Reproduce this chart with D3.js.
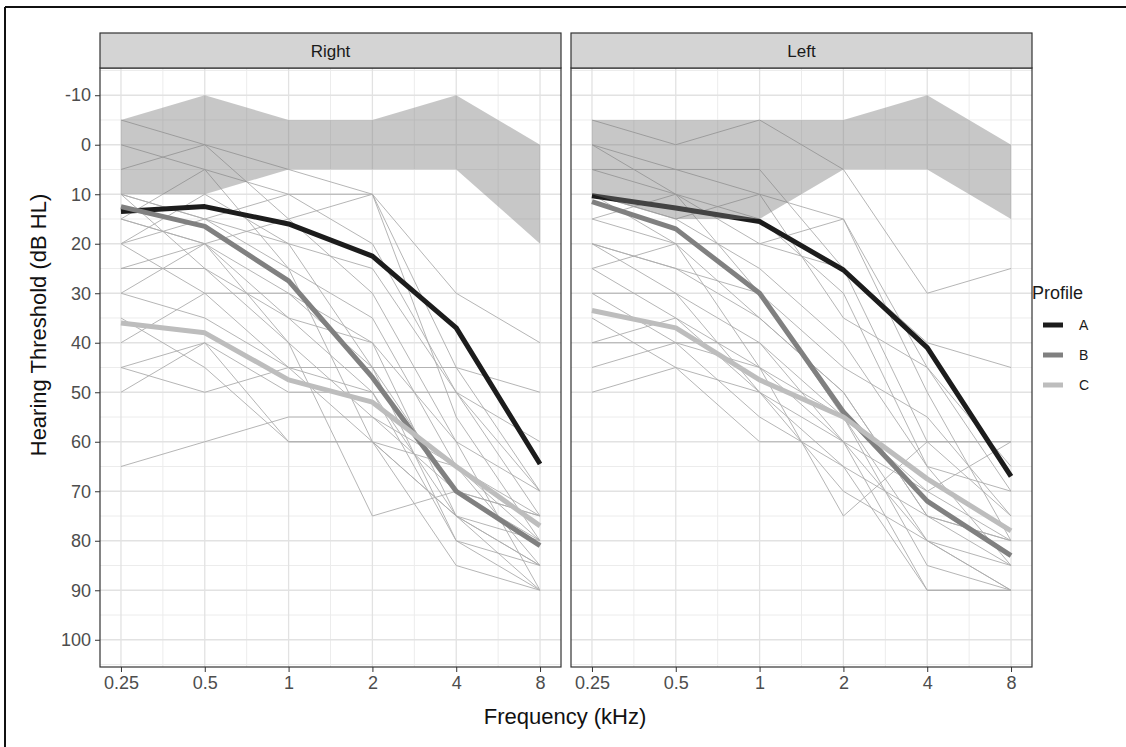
<!DOCTYPE html>
<html>
<head>
<meta charset="utf-8">
<script src="https://cdn.jsdelivr.net/npm/d3@7"></script>
<style>
  body { margin: 0; background: #fff; }
  svg { display: block; font-family: "Liberation Sans", Arial, sans-serif; }
</style>
</head>
<body>
<svg id="chart"></svg>
<script>

// frequencies (kHz) and tick labels
var freqs = [0.25, 0.5, 1, 2, 4, 8];
var freqLabels = ["0.25", "0.5", "1", "2", "4", "8"];
var yTicks = [-10, 0, 10, 20, 30, 40, 50, 60, 70, 80, 90, 100];
var ears = ["Right", "Left"];
var profiles = ["A", "B", "C"];

// normal range band (upper / lower threshold per frequency)
var bandTopRight = [-5, -10, -5, -5, -10, 0];
var bandBottomRight = [10, 10, 5, 5, 5, 20];
var bandTopLeft = [-5, -5, -5, -5, -10, 0];
var bandBottomLeft = [10, 15, 15, 5, 5, 15];

// profile means
var meanRight = {
    A: [13.5, 12.5, 16, 22.5, 37, 64.5],
    B: [12.5, 16.5, 27.5, 47, 70, 81],
    C: [36, 38, 47.5, 52, 65, 77]
};
var meanLeft = {
    A: [10.3, 12.8, 15.5, 25.3, 41, 67],
    B: [11.5, 17, 30, 54, 72, 83],
    C: [33.5, 37, 47.5, 55, 67.5, 78]
};

// individual audiograms
var indivRight = [
    [-5, 0, 5, 10, 30, 40],
    [0, 5, 10, 10, 45, 70],
    [5, 0, 15, 10, 55, 80],
    [10, 15, 10, 20, 50, 75],
    [15, 5, 25, 35, 65, 85],
    [15, 20, 15, 30, 60, 90],
    [20, 10, 20, 45, 70, 80],
    [20, 30, 30, 40, 75, 85],
    [25, 25, 35, 50, 80, 90],
    [30, 20, 40, 55, 70, 75],
    [30, 35, 45, 60, 75, 90],
    [40, 30, 45, 45, 45, 50],
    [45, 40, 50, 50, 50, 70],
    [50, 40, 60, 60, 85, 90],
    [65, 60, 55, 55, 65, 75],
    [20, 15, 25, 60, 65, 80],
    [10, 25, 40, 75, 70, 75],
    [35, 45, 60, 60, 75, 80],
    [15, 20, 30, 45, 80, 85],
    [25, 20, 35, 40, 60, 70],
    [10, 15, 20, 25, 50, 60],
    [45, 50, 45, 50, 75, 85]
];
var indivLeft = [
    [-5, 0, -5, 5, 30, 25],
    [0, 5, 10, 15, 45, 65],
    [5, 5, 5, 25, 60, 75],
    [5, 10, 15, 30, 65, 85],
    [10, 15, 25, 40, 65, 70],
    [15, 20, 20, 15, 50, 80],
    [15, 10, 30, 55, 80, 90],
    [20, 25, 35, 50, 75, 85],
    [20, 30, 40, 60, 90, 90],
    [25, 20, 45, 60, 70, 80],
    [25, 35, 45, 55, 85, 90],
    [30, 30, 50, 65, 90, 90],
    [30, 40, 45, 75, 60, 60],
    [40, 40, 40, 55, 70, 60],
    [40, 35, 50, 60, 80, 85],
    [45, 40, 55, 65, 75, 80],
    [50, 45, 60, 60, 60, 60],
    [10, 15, 10, 35, 45, 70],
    [35, 45, 50, 70, 80, 90],
    [20, 25, 30, 45, 55, 75],
    [10, 20, 35, 50, 75, 80],
    [0, 10, 20, 25, 40, 45]
];

var panelData = {
    Right: { indiv: indivRight, mean: meanRight, top: bandTopRight, bottom: bandBottomRight },
    Left: { indiv: indivLeft, mean: meanLeft, top: bandTopLeft, bottom: bandBottomLeft }
};

var profileColour = { A: "#1c1c1c", B: "#808080", C: "#bdbdbd" };

var W = 1126, H = 747;
var panelX = { Right: 100, Left: 571 };
var panelW = 461;
var plotTop = 68, plotBottom = 667;
var stripTop = 33;

var svg = d3.select("#chart").attr("width", W).attr("height", H);

// outer frame (top and left edges visible)
svg.append("line").attr("x1", 5).attr("y1", 7).attr("x2", W).attr("y2", 7)
    .attr("stroke", "#111").attr("stroke-width", 2);
svg.append("line").attr("x1", 5).attr("y1", 7).attr("x2", 5).attr("y2", H)
    .attr("stroke", "#111").attr("stroke-width", 2);

var y = d3.scaleLinear().domain([-15.5, 105.5]).range([plotTop, plotBottom]);

ears.forEach(function (ear) {
    var d = panelData[ear];
    var x0 = panelX[ear];
    var x = d3.scaleLog().base(2)
        .domain([0.25 * Math.pow(2, -0.25), 8 * Math.pow(2, 0.25)])
        .range([x0, x0 + panelW]);

    var g = svg.append("g");
    var clipId = "clip-" + ear;
    g.append("clipPath").attr("id", clipId).append("rect")
        .attr("x", x0).attr("y", plotTop).attr("width", panelW).attr("height", plotBottom - plotTop);

    // grid, minor first
    var minorX = d3.range(freqs.length - 1).map(function (i) { return Math.sqrt(freqs[i] * freqs[i + 1]); });
    var minorY = d3.range(-15, 106, 10);
    g.selectAll(".mx").data(minorX).enter().append("line")
        .attr("x1", function (v) { return x(v); }).attr("x2", function (v) { return x(v); })
        .attr("y1", plotTop).attr("y2", plotBottom).attr("stroke", "#ececec").attr("stroke-width", 1);
    g.selectAll(".my").data(minorY).enter().append("line")
        .attr("y1", function (v) { return y(v); }).attr("y2", function (v) { return y(v); })
        .attr("x1", x0).attr("x2", x0 + panelW).attr("stroke", "#ececec").attr("stroke-width", 1);
    g.selectAll(".gx").data(freqs).enter().append("line")
        .attr("x1", function (v) { return x(v); }).attr("x2", function (v) { return x(v); })
        .attr("y1", plotTop).attr("y2", plotBottom).attr("stroke", "#e2e2e2").attr("stroke-width", 1.3);
    g.selectAll(".gy").data(yTicks).enter().append("line")
        .attr("y1", function (v) { return y(v); }).attr("y2", function (v) { return y(v); })
        .attr("x1", x0).attr("x2", x0 + panelW).attr("stroke", "#e2e2e2").attr("stroke-width", 1.3);

    var plot = g.append("g").attr("clip-path", "url(#" + clipId + ")");

    var line = d3.line()
        .x(function (v, i) { return x(freqs[i]); })
        .y(function (v) { return y(v); });

    // individual thin lines
    plot.selectAll(".indiv").data(d.indiv).enter().append("path")
        .attr("d", line)
        .attr("fill", "none").attr("stroke", "#adadad").attr("stroke-width", 0.9);

    // profile means
    profiles.forEach(function (p) {
        plot.append("path").attr("d", line(d.mean[p]))
            .attr("fill", "none").attr("stroke", profileColour[p])
            .attr("stroke-width", 5).attr("stroke-linejoin", "round");
    });

    // normal-hearing band, semi transparent on top
    var area = d3.area()
        .x(function (v, i) { return x(freqs[i]); })
        .y0(function (v, i) { return y(d.bottom[i]); })
        .y1(function (v) { return y(v); });
    plot.append("path").attr("d", area(d.top))
        .attr("fill", "#7a7a7a").attr("fill-opacity", 0.42);

    // panel border
    g.append("rect").attr("x", x0).attr("y", plotTop).attr("width", panelW).attr("height", plotBottom - plotTop)
        .attr("fill", "none").attr("stroke", "#333").attr("stroke-width", 1.2);

    // strip
    g.append("rect").attr("x", x0).attr("y", stripTop).attr("width", panelW).attr("height", plotTop - stripTop)
        .attr("fill", "#d4d4d4").attr("stroke", "#333").attr("stroke-width", 1.2);
    g.append("text").attr("x", x0 + panelW / 2).attr("y", (stripTop + plotTop) / 2 + 6)
        .attr("text-anchor", "middle").attr("font-size", 17).attr("fill", "#1a1a1a").text(ear);

    // x axis
    var xAxis = d3.axisBottom(x).tickValues(freqs)
        .tickFormat(function (v, i) { return freqLabels[i]; })
        .tickSize(5).tickPadding(4);
    var xa = g.append("g").attr("transform", "translate(0," + plotBottom + ")").call(xAxis);
    xa.select(".domain").remove();
    xa.selectAll("line").attr("stroke", "#333");
    xa.selectAll("text").attr("font-size", 18).attr("fill", "#4d4d4d")
        .attr("font-family", "Liberation Sans, Arial, sans-serif");
});

// y axis on the first panel
var yAxis = d3.axisLeft(y).tickValues(yTicks).tickSize(5).tickPadding(4)
    .tickFormat(function (v) { return String(v); });
var ya = svg.append("g").attr("transform", "translate(" + panelX.Right + ",0)").call(yAxis);
ya.select(".domain").remove();
ya.selectAll("line").attr("stroke", "#333");
ya.selectAll("text").attr("font-size", 18).attr("fill", "#4d4d4d")
    .attr("font-family", "Liberation Sans, Arial, sans-serif");

// axis titles
svg.append("text").attr("x", 565).attr("y", 724).attr("text-anchor", "middle")
    .attr("font-size", 22).attr("fill", "#111").text("Frequency (kHz)");
svg.append("text").attr("transform", "translate(46,325) rotate(-90)")
    .attr("text-anchor", "middle").attr("font-size", 22).attr("fill", "#111")
    .text("Hearing Threshold (dB HL)");

// legend
var legend = svg.append("g").attr("transform", "translate(1042,0)");
legend.append("text").attr("x", -10).attr("y", 299).attr("font-size", 18).attr("fill", "#1a1a1a").text("Profile");
profiles.forEach(function (p, i) {
    var yy = 325 + i * 30;
    legend.append("line").attr("x1", 1).attr("x2", 21).attr("y1", yy).attr("y2", yy)
        .attr("stroke", profileColour[p]).attr("stroke-width", 5);
    legend.append("text").attr("x", 37).attr("y", yy + 5).attr("font-size", 14)
        .attr("fill", "#1a1a1a").text(p);
});

</script>
</body>
</html>
